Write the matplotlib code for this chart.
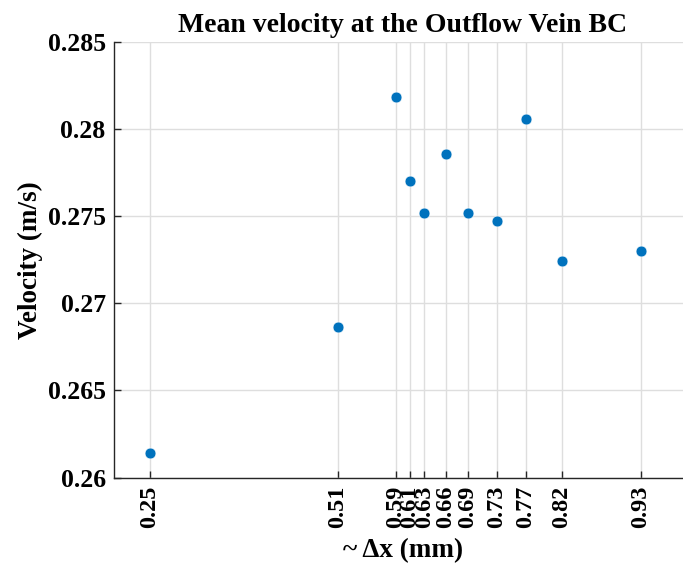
import matplotlib
matplotlib.use("Agg")
import matplotlib.pyplot as plt

# grid spacing (mm) and mean outflow velocity (m/s)
dx = [0.25, 0.51, 0.59, 0.61, 0.63, 0.66, 0.69, 0.73, 0.77, 0.82, 0.93]
vel = [0.26144, 0.26862, 0.28186, 0.27703, 0.27519, 0.27855, 0.27519,
       0.27473, 0.28056, 0.27241, 0.27303]
xtick_labels = ["0.25", "0.51", "0.59", "0.61", "0.63", "0.66", "0.69",
                "0.73", "0.77", "0.82", "0.93"]
yticks = [0.26, 0.265, 0.27, 0.275, 0.28, 0.285]
ytick_labels = ["0.26", "0.265", "0.27", "0.275", "0.28", "0.285"]

plt.rcParams['font.family'] = ['Liberation Serif', 'DejaVu Serif']
plt.rcParams['font.weight'] = 'bold'

fig = plt.figure(figsize=(6.83, 5.65), dpi=100)
ax = fig.add_axes([114 / 683, 87.4 / 565, 577.6 / 683, 435.6 / 565])

ax.plot(dx, vel, 'o', color=(0, 0.447, 0.741), markersize=7.8,
        markeredgecolor='white', markeredgewidth=0.4, zorder=3)

ax.set_xlim(0.2, 1.0)
ax.set_ylim(0.26, 0.285)
ax.set_xticks(dx)
ax.set_xticklabels(xtick_labels, rotation=90, fontsize=17.5, fontweight='bold')
ax.set_yticks(yticks)
ax.set_yticklabels(ytick_labels, fontsize=18.5, fontweight='bold')
ax.tick_params(direction='in', length=5, width=1, color='#262626', pad=6)
ax.tick_params(axis='x', pad=6)

ax.grid(True, color='#dedede', linewidth=1)
ax.set_axisbelow(True)
for s in ['top', 'right']:
    ax.spines[s].set_visible(False)
for s in ['left', 'bottom']:
    ax.spines[s].set_color('#262626')
    ax.spines[s].set_linewidth(1)

ax.set_title('Mean velocity at the Outflow Vein BC', fontsize=20,
             fontweight='bold', pad=7)
ax.set_xlabel('~ Δx (mm)', fontsize=19.5, fontweight='bold', labelpad=7)
ax.set_ylabel('Velocity (m/s)', fontsize=19.5, fontweight='bold', labelpad=3)

fig.savefig('out.png', dpi=100)
